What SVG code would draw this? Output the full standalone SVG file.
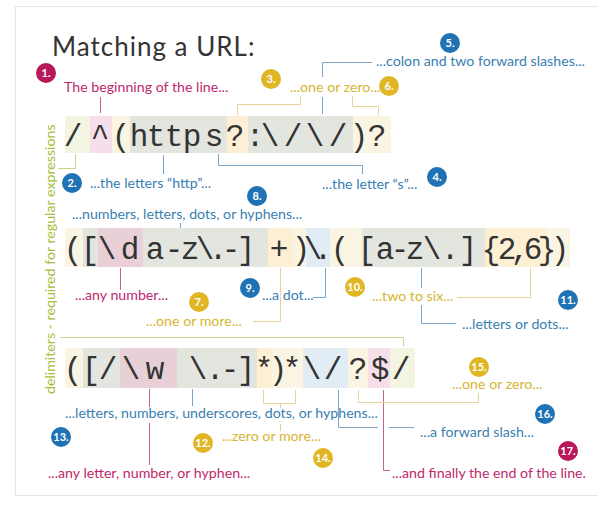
<svg xmlns="http://www.w3.org/2000/svg" width="598" height="508" viewBox="0 0 598 508">
<style>
.lbl{font-family:Lato,"Open Sans","DejaVu Sans",sans-serif;font-size:14.2px}
.m{fill:#c0286c}.b{fill:#3a80b0}.y{fill:#d6b530}
.code{font-family:"Liberation Mono","DejaVu Sans Mono",monospace;font-size:31px;fill:#333;text-anchor:middle}
.bn{font-family:Lato,"DejaVu Sans",sans-serif;font-size:11px;font-weight:bold;fill:#fff;text-anchor:middle}
.cm{fill:#b8175a}.cb{fill:#1f72b4}.cy{fill:#e0b625}
.lm,.lb,.ly,.lg{fill:none;stroke-width:1}
.lm{stroke:#c8608c}.lb{stroke:#7aa5c8}.ly{stroke:#e5d39a}.lg{stroke:#cdd28f}
.ky{fill:#faf5e3}.kg{fill:#e3e5df}.kp{fill:#f6dfea}.kv{fill:#e8d0d6}.ko{fill:#fcefd3}.kb{fill:#e1ecf5}.kd{fill:#f3f5e1}
</style>
<rect x="0" y="0" width="598" height="508" fill="#ffffff"/>
<rect x="15.5" y="6.5" width="600" height="489" fill="#ffffff" stroke="#e6e6e6"/>
<text x="52" y="56" font-family="Lato,'Open Sans',sans-serif" font-size="26" fill="#333" letter-spacing="1">Matching a URL:</text>

<g id="delimiters-label">
<text class="lbl" x="0" y="0" transform="translate(55,394) rotate(-90)" fill="#a9bd3c">delimiters - required for regular expressions</text>
</g>

<g id="row1">
<rect class="kd" x="65" y="116" width="25" height="37"/>
<rect class="kp" x="90" y="116" width="22" height="37"/>
<rect class="ky" x="112" y="116" width="18" height="37"/>
<rect class="kg" x="130" y="116" width="97" height="37"/>
<rect class="ko" x="227" y="116" width="21" height="37"/>
<rect class="kg" x="248" y="116" width="105" height="37"/>
<rect class="ky" x="353" y="116" width="38" height="37"/>
<text class="code" y="146" x="73 100 121 139 156 174 192 214 235 255 270 293 315 338 359 377">/^(https?:\/\/)?</text>
</g>

<g id="row2">
<rect class="ky" x="65" y="228" width="18" height="39"/>
<rect class="kg" x="83" y="228" width="15" height="39"/>
<rect class="kv" x="98" y="228" width="45" height="39"/>
<rect class="kg" x="143" y="228" width="125" height="39"/>
<rect class="ko" x="268" y="228" width="25" height="39"/>
<rect class="ky" x="293" y="228" width="13" height="39"/>
<rect class="kb" x="306" y="228" width="24" height="39"/>
<rect class="ky" x="330" y="228" width="32" height="39"/>
<rect class="kg" x="362" y="228" width="123" height="39"/>
<rect class="ko" x="485" y="228" width="62" height="39"/>
<rect class="ky" x="547" y="228" width="23" height="39"/>
<text class="code" y="259" x="73 90 107 130 155 174 190 205 218 231 246 279 301 313 323 340 367 385 400 415 432 450 468 491 507 520 533 547 560">([\da-z\.-]+)\.([a-z\.]{2,6})</text>
</g>

<g id="row3">
<rect class="ky" x="65" y="348" width="18" height="40"/>
<rect class="kg" x="83" y="348" width="37" height="40"/>
<rect class="kv" x="120" y="348" width="57" height="40"/>
<rect class="kg" x="177" y="348" width="80" height="40"/>
<rect class="ko" x="257" y="348" width="15" height="40"/>
<rect class="ky" x="272" y="348" width="31" height="40"/>
<rect class="kb" x="303" y="348" width="45" height="40"/>
<rect class="ky" x="348" y="348" width="20" height="40"/>
<rect class="kp" x="368" y="348" width="22" height="40"/>
<rect class="kd" x="390" y="348" width="25" height="40"/>
<text class="code" y="379" x="73 91 108 131 155 176 198 215 230 246 264 278 292 312 333 358 380 401">([/\w \.-]*)*\/?$/</text>
</g>

<g id="connectors">
<path class="lg" d="M58 168.5H75.5V154"/>
<path class="lg" d="M60 337.5H403.5V346"/>
<path class="lm" d="M100.5 97V113"/>
<path class="lm" d="M120.5 268V290"/>
<path class="lm" d="M149.5 389V407M149.5 423V465"/>
<path class="lm" d="M383.5 390V470.5H390"/>
<path class="lb" d="M372 62.5H322.5V77M322.5 97V114"/>
<path class="lb" d="M163.5 155V174"/>
<path class="lb" d="M218.5 154V165.5H362.5V174"/>
<path class="lb" d="M180.5 223V228"/>
<path class="lb" d="M313 297.5H325.5V268"/>
<path class="lb" d="M421.5 268V288M421.5 305V323.5H456"/>
<path class="lb" d="M192.5 389V406"/>
<path class="lb" d="M338.5 390V427.5H378M389 427.5H414"/>
<path class="ly" d="M237.5 115V104.5H300.5V96"/>
<path class="ly" d="M352.5 96V106.5H378.5V115"/>
<path class="ly" d="M253 321.5H280.5V268"/>
<path class="ly" d="M457 297.5H530.5V268"/>
<path class="ly" d="M263.5 390V403.5H295.5V390M280.5 403.5V408M280.5 424V431"/>
<path class="ly" d="M358.5 390V402.5H478.5V393"/>
</g>

<g id="labels">
<text class="lbl m" x="64" y="92">The beginning of the line...</text>
<text class="lbl y" x="290" y="92">...one or zero...</text>
<text class="lbl b" x="376" y="66">...colon and two forward slashes...</text>
<text class="lbl b" x="90" y="188">...the letters “http”...</text>
<text class="lbl b" x="322" y="189">...the letter “s”...</text>
<text class="lbl b" x="72" y="219">...numbers, letters, dots, or hyphens...</text>
<text class="lbl m" x="75" y="300">...any number...</text>
<text class="lbl y" x="146" y="326">...one or more...</text>
<text class="lbl b" x="262" y="300">...a dot...</text>
<text class="lbl y" x="372" y="301">...two to six...</text>
<text class="lbl b" x="462" y="329">...letters or dots...</text>
<text class="lbl y" x="452" y="389">...one or zero...</text>
<text class="lbl b" x="65" y="418">...letters, numbers, underscores, dots, or hyphens...</text>
<text class="lbl y" x="222" y="441">...zero or more...</text>
<text class="lbl b" x="420" y="437">...a forward slash...</text>
<text class="lbl m" x="48" y="478">...any letter, number, or hyphen...</text>
<text class="lbl m" x="392" y="478">...and finally the end of the line.</text>
</g>

<g id="badges">
<g id="b1"><circle class="cm" cx="46" cy="73" r="10"/><text class="bn" x="46" y="77">1.</text></g>
<g id="b2"><circle class="cb" cx="72" cy="183" r="10"/><text class="bn" x="72" y="187">2.</text></g>
<g id="b3"><circle class="cy" cx="271" cy="79" r="10"/><text class="bn" x="271" y="83">3.</text></g>
<g id="b4"><circle class="cb" cx="437" cy="177" r="10"/><text class="bn" x="437" y="181">4.</text></g>
<g id="b5"><circle class="cb" cx="450" cy="43" r="10"/><text class="bn" x="450" y="47">5.</text></g>
<g id="b6"><circle class="cy" cx="389" cy="86" r="10"/><text class="bn" x="389" y="90">6.</text></g>
<g id="b7"><circle class="cy" cx="199" cy="302" r="10"/><text class="bn" x="199" y="306">7.</text></g>
<g id="b8"><circle class="cb" cx="257" cy="196" r="10"/><text class="bn" x="257" y="200">8.</text></g>
<g id="b9"><circle class="cb" cx="250" cy="288" r="10"/><text class="bn" x="250" y="292">9.</text></g>
<g id="b10"><circle class="cy" cx="355" cy="287" r="10"/><text class="bn" x="355" y="291">10.</text></g>
<g id="b11"><circle class="cb" cx="568" cy="300" r="10"/><text class="bn" x="568" y="304">11.</text></g>
<g id="b12"><circle class="cy" cx="203" cy="443" r="10"/><text class="bn" x="203" y="447">12.</text></g>
<g id="b13"><circle class="cb" cx="61" cy="437" r="10"/><text class="bn" x="61" y="441">13.</text></g>
<g id="b14"><circle class="cy" cx="323" cy="458" r="10"/><text class="bn" x="323" y="462">14.</text></g>
<g id="b15"><circle class="cy" cx="479" cy="367" r="10"/><text class="bn" x="479" y="371">15.</text></g>
<g id="b16"><circle class="cb" cx="545" cy="414" r="10"/><text class="bn" x="545" y="418">16.</text></g>
<g id="b17"><circle class="cm" cx="568" cy="451" r="10"/><text class="bn" x="568" y="455">17.</text></g>
</g>
</svg>
